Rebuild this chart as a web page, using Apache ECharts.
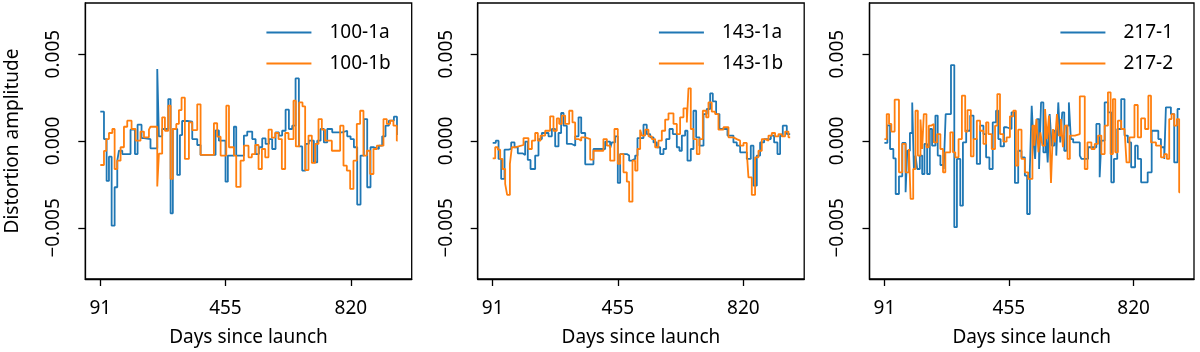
<!DOCTYPE html>
<html>
<head>
<meta charset="utf-8">
<script src="https://cdn.jsdelivr.net/npm/echarts@6/dist/echarts.min.js"></script>
<style>
html, body { margin: 0; padding: 0; background: #fff; }
#chart { width: 1200px; height: 352px; }
</style>
</head>
<body>
<div id="chart"></div>
<script>
// ============================= 数据 ===============================
// each series: step start days + value held until the next day

const xTicks = [91, 455, 820];
const yTicks = [-0.005, 0, 0.005];
const endDay = 956;

// ---- panel 1 : 100 GHz ----
const days100a = [91, 101.7, 109.4, 116.2, 124, 132.7, 140.4, 145.3, 155, 179, 191.8, 199.5, 211, 218, 237, 256.7, 261.5, 271, 288.7, 295.5, 302, 314.8, 322.6, 329, 344, 358.5, 373, 382.7, 426.3, 436, 455.3, 462, 479.6, 486.4, 508.7, 518.4, 533, 542.7, 552.4, 562, 571.8, 581.5, 591, 600.8, 610.5, 620, 630, 639.6, 649.3, 659, 668.6, 678.3, 688, 697.7, 712.3, 722, 731.7, 741.4, 751, 765.6, 794.7, 809.2, 819, 828.6, 838.3, 848, 857.7, 867.4, 877, 886.8, 901.3, 911, 920.7, 930.4, 945, 954];
const vals100a = [0.00169, 0.00011, -0.0023, -0.0009, -0.00487, -0.00266, -0.00113, -0.00056, -0.00075, 0.00065, -0.00075, 0.00094, 0.00017, 0.00011, -0.00042, 0.00414, 0.00027, 0.00069, 0.00241, -0.00416, 0.00069, -0.00195, 0.00034, 0.00115, 0.00111, 0.00011, -0.00023, -0.0008, 0.00061, 0.00002, -0.00234, -0.00084, 0.00082, -0.00084, 0.00031, 0.00054, 0.00011, -0.00075, -0.00036, 0.00015, -0.00017, 0.00011, -0.00046, 0.0005, 0.00031, 0.00059, 0.0018, 0.00069, 0.00088, 0.0036, -0.00031, -0.0017, -0.00017, 0.00002, -0.00123, 0.00002, 0.00069, -0.00008, 0.00069, 0.0005, 0.00059, 0.00027, 0.00011, -0.00036, -0.00366, -0.00084, 0.00126, -0.00266, -0.00036, -0.00046, -0.00027, 0.00027, 0.00088, 0.00117, 0.0014, 0.00034];
const days100b = [91, 101.7, 108.4, 116.2, 126, 132.7, 140.4, 150, 159.8, 169.4, 182, 193.7, 208, 218, 232.5, 237, 256.7, 261.5, 271, 279, 288.7, 295.5, 302, 312, 319.7, 327.4, 337, 348.8, 358.5, 373, 382.7, 421.5, 431, 441, 457.5, 465.3, 479.6, 486.4, 499, 508.7, 522.2, 531.9, 541.6, 551.3, 561, 570.7, 580.3, 590, 599.7, 609.4, 619.1, 628.8, 638.5, 653, 659.8, 669.5, 679.2, 686.9, 696.6, 706.3, 716, 725.7, 735.4, 745, 764.5, 788.7, 798.4, 808.1, 817.8, 827.4, 837.1, 846.8, 856.5, 866.2, 875.9, 885.6, 895.3, 914.7, 924.3, 934, 943.7, 953.4];
const vals100b = [-0.00138, -0.00057, 0.00011, 0.00046, 0.00069, -0.00161, -0.00113, -0.00036, 0.00082, 0.00117, 0.00069, 0.00002, 0.00054, 0.00021, 0.00065, 0.00082, -0.00262, -0.00073, 0.00136, 0.00059, 0.00203, -0.00218, 0.00069, 0.00098, 0.00178, 0.00249, -0.00103, 0.00107, 0.00063, 0.00211, -0.0008, 0.00102, 0.00025, -0.00084, 0.00203, -0.00036, -0.00084, -0.00264, -0.00113, -0.00027, -0.00094, -0.00075, -0.00023, -0.00161, -0.00046, -0.00094, 0.00065, 0.00019, 0.00046, 0.00011, -0.00161, 0.00046, 0.00011, 0.00232, -0.00031, 0.00222, 0.00199, -0.00167, 0.00031, -0.00126, -0.00017, 0.00126, 0.00065, 0.00002, -0.00056, 0.00088, -0.00142, -0.0017, -0.00276, -0.00113, 0.00098, 0.00174, -0.00084, -0.00056, -0.0019, -0.00046, -0.00027, 0.00126, 0.00098, 0.00117, 0.00088, 0.00002];

// ---- panel 2 : 143 GHz ----
const days143a = [91, 100, 108, 115.7, 125.4, 137, 144.8, 154.5, 164, 177.7, 185.4, 193, 201, 214.5, 224.2, 234, 253.3, 263, 272.7, 282.4, 290, 297, 306.6, 321, 331, 340.6, 348.4, 360, 384, 418, 432.5, 437.4, 447, 454.8, 461.6, 481, 487.8, 495.6, 505.3, 512, 529.5, 539, 548.9, 558.6, 568.3, 578, 587.6, 595.4, 605, 614.8, 626.4, 634, 641, 650.6, 657.4, 667, 674.8, 682.6, 692.3, 704, 713.6, 723.3, 731, 740.7, 750.4, 773.7, 791, 800.8, 810.5, 829.9, 841.5, 849.3, 859, 868.6, 880.3, 899.7, 909.3, 919, 926.8, 934.5, 946.2];
const vals143a = [-0.00011, 0.00002, -0.00103, -0.00218, -0.0005, -0.00046, -0.00008, -0.00036, -0.00071, -0.0008, -0.00004, -0.00109, -0.00161, -0.00084, 0.00011, 0.00046, 0.00027, 0.00069, -0.00031, 0.00046, 0.00161, 0.00088, -0.00017, -0.00027, 0.00027, 0.00136, 0.00046, -0.00134, -0.00046, -0.00004, -0.00042, -0.00008, 0.00027, -0.00241, -0.00075, -0.00084, -0.00113, -0.00103, -0.00084, 0.00017, 0.00094, 0.0004, 0.00021, -0.00008, -0.00036, -0.00075, -0.00046, 0.00011, 0.00069, 0.0004, -0.00036, -0.00056, 0.00031, 0.00059, -0.00113, -0.00046, 0.00174, 0.00021, -0.00027, 0.00155, 0.00184, 0.00274, 0.00228, 0.00155, 0.00069, 0.00031, -0.00008, -0.00027, -0.00065, -0.00103, -0.00027, -0.00257, -0.00084, -0.00008, 0.00011, 0.00031, -0.00008, -0.00075, 0.00031, 0.00088, 0.0004];
const days143b = [91, 98.3, 106, 112.8, 119.6, 127.3, 133, 141, 146.7, 154.5, 166, 180.6, 195, 205, 214.5, 222.3, 230, 243.6, 258, 267.8, 277.5, 284.3, 292, 301.7, 313.4, 323, 330.8, 340.6, 348.4, 360, 374.5, 384, 413, 423, 432.5, 445, 454.8, 461.6, 471.3, 481, 487.8, 497.5, 505.3, 512, 519.8, 524.6, 534.3, 544, 553.7, 563.4, 573, 582.8, 592.5, 602.2, 616.7, 626.4, 636, 645.8, 655.5, 660.3, 667, 674.8, 684.5, 692.3, 702, 711.7, 718.4, 728, 737.8, 747.5, 762, 776.6, 791, 800.8, 810.5, 820.2, 829.9, 834.7, 844.4, 854, 863.8, 873.5, 883.2, 892.9, 902.6, 912.2, 922, 931.6, 941.3, 951];
const vals143b = [-0.001, -0.00036, -0.0005, -0.00103, -0.00161, -0.00247, -0.0031, -0.00132, -0.00036, -0.00031, -0.00023, 0.00017, -0.00046, 0.00002, 0.00046, 0.00002, 0.00031, 0.00059, 0.00142, 0.00059, 0.0013, 0.00098, 0.00146, 0.00098, 0.00174, 0.00107, 0.00011, 0.00002, 0.00021, 0.00011, -0.00107, -0.00056, 0.00011, -0.00027, -0.00113, 0.00069, -0.00132, -0.00075, -0.0018, -0.00234, -0.00349, -0.00113, -0.0017, -0.00046, 0.00065, 0.00031, 0.00065, 0.00027, 0.00011, -0.00036, 0.00002, 0.00059, 0.00123, 0.00159, 0.00098, 0.0004, 0.00136, 0.00188, 0.00107, 0.00303, 0.00069, 0.00011, -0.00075, 0.00011, 0.00174, 0.00136, 0.00222, 0.00169, 0.00155, 0.00065, 0.00079, 0.00021, 0.00011, 0.00002, -0.00027, -0.00011, -0.00065, -0.00209, -0.0031, -0.00094, -0.00056, 0.00011, 0.00002, 0.00031, 0.00046, 0.00027, 0.0004, 0.00027, 0.00054, 0.00021];

// ---- panel 3 : 217 GHz ----
const days217a = [91, 99.7, 107.5, 117.2, 124, 133.6, 143.3, 153, 157.9, 165.6, 172.4, 177.2, 182, 187, 194.7, 201.5, 208.2, 216, 223.8, 230.5, 240.2, 247, 254.8, 264.5, 270.3, 285.8, 295.5, 303.2, 313, 320.7, 330.3, 342, 351.7, 361.4, 371, 380.7, 388.5, 398.2, 407.9, 417.6, 424.3, 431, 440.8, 448.6, 463, 472.8, 482.5, 492, 501.9, 508.6, 516.4, 522, 527, 532, 537, 543.5, 549.3, 556.1, 562.9, 568.7, 574.5, 580.3, 588, 593.9, 599.7, 605.5, 611.3, 617.2, 624, 630.7, 636.5, 643.3, 662.7, 667.5, 686.9, 711.1, 720.8, 725.7, 735.4, 745, 754.8, 762.5, 772.2, 783.8, 793.5, 803.2, 812.9, 824.5, 832.3, 842, 861.3, 873, 892.4, 900.1, 909.8, 914.6, 929.2, 938.9, 948.6];
const vals217a = [-0.00011, 0.0009, -0.00046, -0.001, -0.00305, -0.00203, -0.00011, -0.00295, -0.00056, 0.00046, 0.00222, -0.00161, -0.00084, -0.00161, -0.00084, -0.0019, -0.00017, -0.0019, 0.00069, -0.00027, 0.00146, -0.00084, -0.00138, -0.00161, 0.00155, 0.00437, -0.00496, -0.00103, -0.00372, -0.00008, 0.00059, 0.00146, 0.00011, -0.00132, 0.00088, 0.0004, -0.00094, -0.00161, 0.00107, 0.00174, 0.00011, -0.00031, 0.00079, 0.00069, 0.00165, -0.00241, -0.00056, -0.00094, -0.00199, -0.0042, -0.0017, 0.00203, -0.00008, -0.00103, 0.00126, -0.00161, 0.00222, -0.00065, 0.00088, -0.00123, 0.00155, -0.00027, 0.00059, -0.00084, 0.00222, -0.00008, 0.00165, -0.00056, 0.00088, 0.00222, 0.00011, -0.00008, -0.00084, -0.00103, -0.00036, 0.00098, -0.00209, 0.00002, 0.00222, 0.00165, -0.00238, -0.00103, 0.00069, 0.00241, 0.00031, -0.00008, -0.00151, -0.00027, -0.00103, -0.00238, -0.0018, 0.00059, 0.00011, -0.00036, -0.00103, 0.00194, 0.00155, -0.00123, 0.00184];
const days217b = [91, 97.8, 104.6, 111.3, 121, 133.6, 143.3, 153, 162.7, 167.6, 175.3, 182, 188.9, 196.6, 201.5, 206.3, 214, 220.8, 227.6, 235.4, 245, 254.8, 262.5, 269.3, 283.8, 291.6, 298.4, 308, 317.7, 327.4, 334.2, 343.9, 351.7, 361.4, 371, 380.7, 388.5, 395.3, 405, 414.7, 421.4, 429.2, 438.9, 448.6, 458.3, 468, 475.7, 482.5, 492.2, 501.9, 511.5, 524.1, 530, 535.8, 541.6, 547.4, 553.2, 561, 566.8, 572.6, 578.4, 584.2, 590, 595.8, 601.6, 607.5, 613.3, 619.1, 626.8, 633.6, 648.2, 662.7, 677.2, 685, 696.6, 706.3, 716, 725.7, 735.4, 745, 752.8, 759.6, 766.4, 774.1, 783.8, 793.5, 799.3, 808, 822.6, 832.3, 842, 853.6, 863.3, 871, 885.6, 900.1, 909.8, 917.5, 924.3, 931.1, 938.9, 946.6, 953.4];
const vals217b = [0.00011, 0.00155, 0.00098, 0.00054, 0.00238, -0.0018, -0.00017, -0.0018, -0.00046, -0.00333, -0.00161, 0.00174, -0.00084, 0.00123, -0.00046, 0.00155, -0.00036, 0.00088, 0.00098, -0.00008, 0.0004, -0.00046, -0.0018, -0.00065, 0.0005, -0.00065, -0.00094, 0.00011, 0.00261, 0.00054, 0.00178, -0.00088, 0.00011, 0.00117, 0.00059, -0.00017, 0.00107, 0.0004, -0.00046, 0.00088, 0.0027, 0.0004, -0.00004, 0.00021, 0.00142, 0.00174, -0.00142, 0.00065, -0.00103, -0.0018, -0.00218, 0.00088, -0.00027, 0.00126, -0.00065, 0.0005, -0.00027, 0.00184, 0.00011, 0.00146, -0.00241, 0.00069, -0.00008, 0.00155, 0.00031, 0.00126, -0.00036, 0.00088, -0.00103, 0.00031, 0.0004, 0.00257, -0.00161, -0.00008, -0.00046, -0.00017, 0.00031, -0.00075, 0.00088, 0.0028, -0.00075, 0.00241, -0.00065, 0.00117, 0.00069, 0.00059, -0.00123, 0.00021, 0.00207, 0.00021, 0.0013, 0.00069, 0.00261, -0.00008, -0.00027, -0.00094, -0.00075, -0.00103, 0.00126, 0.00155, 0.00088, 0.00126, -0.00295];

// ============================= 样式 ===============================
const FONT = 'Noto Sans';
const FS = 19;
const BLUE = '#1f77b4';
const ORANGE = '#ff7f0e';
const panels = [
    { left: 85.3, width: 326.4, names: ['100-1a', '100-1b'], a: [days100a, vals100a], b: [days100b, vals100b], yName: 'Distortion amplitude' },
    { left: 477.7, width: 326.5, names: ['143-1a', '143-1b'], a: [days143a, vals143a], b: [days143b, vals143b], yName: '' },
    { left: 869.5, width: 324.5, names: ['217-1', '217-2'], a: [days217a, vals217a], b: [days217b, vals217b], yName: '' }
];

/**
 * 把阶梯起点和数值配成 [x, y]，最后补一个结束点
 */
function stepData(days, vals) {
    const out = days.map((d, i) => [d, vals[i]]);
    out.push([endDay, vals[vals.length - 1]]);
    return out;
}

function fmtY(v) {
    return v.toFixed(3).replace('-', '\u2212');
}

let option = {
    animation: false,
    backgroundColor: '#fff',
    textStyle: { fontFamily: FONT },
    grid: [],
    xAxis: [],
    yAxis: [],
    legend: [],
    series: []
};

panels.forEach((p, i) => {
    option.grid.push({
        left: p.left, top: 3, width: p.width, height: 278,
        show: true, borderColor: '#000', borderWidth: 1.3, backgroundColor: 'transparent'
    });
    option.xAxis.push({
        type: 'value', gridIndex: i, min: 47.4, max: 996.8,
        name: 'Days since launch', nameLocation: 'middle', nameGap: 49,
        nameTextStyle: { fontSize: FS, color: '#000', fontFamily: FONT },
        axisLine: { show: true, onZero: false, lineStyle: { color: '#000', width: 1.3 } },
        axisTick: { show: true, length: 7, lineStyle: { color: '#000', width: 1.3 }, customValues: xTicks },
        axisLabel: { show: true, fontSize: FS, color: '#000', margin: 20, fontFamily: FONT, customValues: xTicks },
        splitLine: { show: false }
    });
    option.yAxis.push({
        type: 'value', gridIndex: i, min: -0.00794, max: 0.00794,
        name: p.yName, nameLocation: 'middle', nameGap: 63, nameRotate: 90,
        nameTextStyle: { fontSize: FS, color: '#000', fontFamily: FONT },
        axisLine: { show: true, onZero: false, lineStyle: { color: '#000', width: 1.3 } },
        axisTick: { show: true, length: 7, lineStyle: { color: '#000', width: 1.3 }, customValues: yTicks },
        axisLabel: { show: true, fontSize: FS, color: '#000', margin: 22, rotate: 90, fontFamily: FONT, customValues: yTicks, formatter: fmtY },
        splitLine: { show: false }
    });
    option.legend.push({
        data: p.names, orient: 'vertical',
        right: 1200 - (p.left + p.width) + 21, top: 23,
        padding: 0, itemGap: 12, icon: 'rect', itemWidth: 45, itemHeight: 2,
        textStyle: { fontSize: FS, color: '#000', fontFamily: FONT, padding: [0, 0, 0, 13] }
    });
    [[p.names[0], p.a, BLUE], [p.names[1], p.b, ORANGE]].forEach(([name, d, color]) => {
        option.series.push({
            name: name, type: 'line', xAxisIndex: i, yAxisIndex: i,
            step: 'end', showSymbol: false, symbol: 'none',
            color: color,
            lineStyle: { color: color, width: 1.8 },
            data: stepData(d[0], d[1])
        });
    });
});

// ============================= 设置属性 ===============================
echarts.init(document.getElementById('chart')).setOption(option);
</script>
</body>
</html>
